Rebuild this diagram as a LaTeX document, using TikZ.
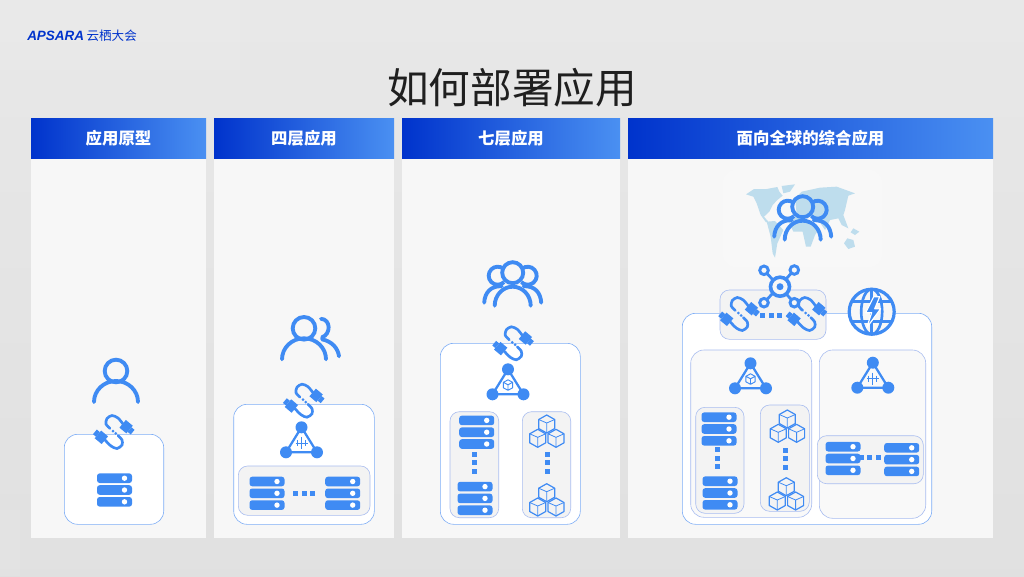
\documentclass[tikz,border=0pt]{standalone}
\usepackage{fontspec}
\usepackage{tikz}
\usetikzlibrary{positioning, fit}
\setmainfont{Noto Sans CJK SC}
\newfontfamily\logofont{Liberation Sans}
\definecolor{iconblue}{HTML}{3F8BF3}
\definecolor{deepblue}{HTML}{0033CC}
\definecolor{liteblue}{HTML}{4A90F2}
\definecolor{edgeblue}{HTML}{7FAEF6}
\definecolor{trimblue}{HTML}{A9BDF0}
\definecolor{mapblue}{HTML}{BEDDED}
\definecolor{panelgray}{HTML}{F7F7F7}
\definecolor{slotgray}{HTML}{F3F3F3}

\tikzset{
  pics/serverbar/.style={code={
    \fill[iconblue, rounded corners=2pt] (-17.5,-4.8) rectangle (17.5,4.8);
    \fill[white] (10,0) circle (2.7);
  }},
  pics/serverstack/.style={code={
    \pic at (0,-11.8) {serverbar};
    \pic at (0,0) {serverbar};
    \pic at (0,11.8) {serverbar};
  }},
  pics/dotrow/.style={code={
    \fill[iconblue] (-11,-2.5) rectangle (-6,2.5);
    \fill[iconblue] (-2.5,-2.5) rectangle (2.5,2.5);
    \fill[iconblue] (6,-2.5) rectangle (11,2.5);
  }},
  pics/dotcol/.style={code={
    \fill[iconblue] (-2.5,-11) rectangle (2.5,-6);
    \fill[iconblue] (-2.5,-2.5) rectangle (2.5,2.5);
    \fill[iconblue] (-2.5,6) rectangle (2.5,11);
  }},
  pics/cubecell/.style={code={
    \draw[iconblue, line width=0.9pt, line join=round, fill=slotgray]
      (0,-9) -- (8,-4.5) -- (8,4.5) -- (0,9) -- (-8,4.5) -- (-8,-4.5) -- cycle;
    \draw[iconblue, line width=0.6pt, line join=round]
      (-8,-4.5) -- (0,-1) -- (8,-4.5) (0,-1) -- (0,9);
  }},
  pics/cubegroup/.style={code={
    \pic at (-9,14.3) {cubecell};
    \pic at (9.3,14.3) {cubecell};
    \pic at (0,0) {cubecell};
  }},
  pics/cable/.style={code={
    \draw[iconblue, line width=2pt, line cap=round]
      plot[smooth] coordinates {(9,-8) (4,-14) (-2,-16.5) (-7,-13.5) (-8,-8) (-4,-3.5)};
    \draw[iconblue, line width=2pt, line cap=round]
      plot[smooth] coordinates {(4,3.5) (8,8) (8,13) (3,16.5) (-3,14) (-9,8)};
    \fill[iconblue] (-1,-1) circle (1.5) (1.8,1.4) circle (1.5);
    \begin{scope}[shift={(12.5,-5)}, rotate=-40]
      \fill[iconblue] (-5,-5) rectangle (4,5);
      \fill[iconblue] (4,-3) rectangle (8,3);
    \end{scope}
    \begin{scope}[shift={(-13,5)}, rotate=140]
      \fill[iconblue] (-5,-5) rectangle (4,5);
      \fill[iconblue] (4,-3) rectangle (8,3);
    \end{scope}
  }},
  pics/flakeglyph/.style={code={
    \draw[iconblue, line width=0.7pt] (0,-15) -- (0,-3) (-6,-9) -- (6,-9);
    \draw[iconblue, line width=0.7pt] (-4,-12) -- (-4,-6) (4,-12) -- (4,-6);
  }},
  pics/cubeglyph/.style={code={
    \draw[iconblue, line width=0.7pt, line join=round]
      (0,-14.5) -- (4.6,-12) -- (4.6,-6.5) -- (0,-4) -- (-4.6,-6.5) -- (-4.6,-12) -- cycle
      (-4.6,-12) -- (0,-9.5) -- (4.6,-12) (0,-9.5) -- (0,-4);
  }},
  pics/lbtriangle/.style={code={
    \draw[iconblue, line width=1.7pt] (0,-25) -- (-15.5,0) -- (15.5,0) -- cycle;
    \fill[iconblue] (0,-25) circle (6) (-15.5,0) circle (6) (15.5,0) circle (6);
    \pic {#1};
  }},
  pics/oneuser/.style={code={
    \draw[iconblue, line width=2.9pt] (0,0) circle (11.3);
    \draw[iconblue, line width=2.9pt, line cap=round]
      (-22,31) arc[start angle=180, end angle=360, x radius=22, y radius=21];
  }},
  pics/twousers/.style={code={
    \pic {oneuser};
    \draw[iconblue, line width=2.9pt, line cap=round]
      (17,-9.5) .. controls (27,-9) and (27,6) .. (18,9);
    \draw[iconblue, line width=2.9pt, line cap=round]
      (18,11) .. controls (28,13) and (34,20) .. (35,28);
  }},
  pics/threeusers/.style={code={
    \draw[iconblue, line width=2.9pt] (0,0) circle (10.5);
    \draw[iconblue, line width=2.9pt] (-15,3)+(45:9) arc[start angle=45, end angle=310, radius=9];
    \draw[iconblue, line width=2.9pt] (15,3)+(-130:9) arc[start angle=-130, end angle=135, radius=9];
    \draw[iconblue, line width=2.9pt, line cap=round]
      (-18,33) arc[start angle=180, end angle=360, x radius=18, y radius=19];
    \draw[iconblue, line width=2.9pt, line cap=round]
      (-28.5,30) .. controls (-28,20) and (-22,13) .. (-11,13.5);
    \draw[iconblue, line width=2.9pt, line cap=round]
      (28.5,30) .. controls (28,20) and (22,13) .. (11,13.5);
  }}
}

\begin{document}
\begin{tikzpicture}[x=0.75pt, y=-0.75pt,
    hdr/.style={left color=deepblue, right color=liteblue, text=white, inner sep=0pt,
                font=\fontsize{12.3}{14}\selectfont\bfseries},
    panel/.style={fill=panelgray, inner sep=0pt},
    outerbox/.style={draw=edgeblue, line width=0.45pt, fill=white, rounded corners=10pt, inner sep=0pt},
    innerbox/.style={draw=trimblue, line width=0.45pt, fill=slotgray, rounded corners=7pt, inner sep=0pt}]
  \useasboundingbox (0,0) rectangle (1024,576);
  \shade[top color=black!9, bottom color=black!12] (0,0) rectangle (1024,576);
  \fill[white, opacity=0.07] (0,0) rectangle (240,70);
  \fill[white, opacity=0.07] (0,510) rectangle (20,576);

  % logo and title
  \node[anchor=west, inner sep=0pt, text=deepblue, font=\logofont\bfseries\itshape\fontsize{10.1}{12}\selectfont] (logo) at (27,36) {APSARA};
  \node[right=1.5pt of logo, inner sep=0pt, text=deepblue, font=\fontsize{9.4}{11}\selectfont] (event) {云栖大会};
  \node[text=black!88, inner sep=0pt, font=\fontsize{31.2}{36}\selectfont] (title) at (512,88) {如何部署应用};

  % panels
  \node[panel, fit={(31,159) (206,538)}] (panelA) {};
  \node[panel, fit={(214,159) (394,538)}] (panelB) {};
  \node[panel, fit={(402,159) (620,538)}] (panelC) {};
  \node[panel, fit={(628,159) (993,538)}] (panelD) {};
  \node[hdr, minimum width=175*0.75pt, minimum height=40*0.75pt, anchor=south] (hdrA) at (panelA.north) {应用原型};
  \node[hdr, minimum width=180*0.75pt, minimum height=40*0.75pt, anchor=south] (hdrB) at (panelB.north) {四层应用};
  \node[hdr, minimum width=218*0.75pt, minimum height=40*0.75pt, anchor=south] (hdrC) at (panelC.north) {七层应用};
  \node[hdr, minimum width=365*0.75pt, minimum height=40*0.75pt, anchor=south] (hdrD) at (panelD.north) {面向全球的综合应用};

  % prototype
  \node[outerbox, fit={(64.3,434.3) (163.7,524.3)}] (boxA) {};
  \pic at (116,371) {oneuser};
  \pic at (114,432) {cable};
  \pic at (114.5,490) {serverstack};

  % layer four
  \node[outerbox, fit={(233.7,404.3) (374.3,524.3)}] (boxB) {};
  \node[innerbox, fit={(238.3,466) (370,515.3)}] (slotB) {};
  \pic at (304,328.3) {twousers};
  \pic at (304,400.7) {cable};
  \pic at (301.5,452.3) {lbtriangle=flakeglyph};
  \pic at (267,493.3) {serverstack};
  \pic at (304,493.7) {dotrow};
  \pic at (342.7,493.3) {serverstack};

  % layer seven
  \node[outerbox, fit={(440.3,343.3) (580.3,524.3)}] (boxC) {};
  \node[innerbox, fit={(450,411.7) (498.7,517.7)}] (slotCa) {};
  \node[innerbox, fit={(522.3,411.7) (570.7,517.7)}] (slotCb) {};
  \pic at (512.7,272.7) {threeusers};
  \pic at (513.3,343.3) {cable};
  \pic at (508,394.3) {lbtriangle=cubeglyph};
  \pic at (476.7,432.2) {serverstack};
  \pic at (474.7,462.7) {dotcol};
  \pic at (475,498.4) {serverstack};
  \pic at (546.7,424) {cubegroup};
  \pic at (547,462.7) {dotcol};
  \pic at (546.7,492.7) {cubegroup};

  % global
  \node[fill=white, opacity=0.2, rounded corners=10pt, inner sep=0pt, fit={(723,170) (882,267)}] (mapback) {};
  \begin{scope}[shift={(740,175)}, xscale=0.3333, yscale=0.3333]
    \fill[mapblue] (18,58) -- (42,42) -- (80,42) -- (112,36) -- (118,50) -- (128,62) -- (112,75) -- (98,90)
      -- (88,110) -- (72,125) -- (85,140) -- (78,142) -- (62,120) -- (50,85) -- (40,65) -- cycle;
    \fill[mapblue] (125,33) -- (165,28) -- (150,50) -- (130,55) -- cycle;
    \fill[mapblue] (80,140) -- (105,138) -- (130,165) -- (112,205) -- (105,248) -- (98,235) -- (92,185) -- cycle;
    \fill[mapblue] (145,138) -- (165,125) -- (195,130) -- (210,150) -- (235,165) -- (225,180) -- (212,215)
      -- (198,215) -- (188,170) -- (160,170) -- cycle;
    \fill[mapblue] (165,70) -- (185,50) -- (240,38) -- (290,35) -- (345,55) -- (325,62) -- (315,105) -- (310,120)
      -- (325,160) -- (305,150) -- (295,130) -- (270,135) -- (255,165) -- (235,135) -- (205,125) -- (170,115) -- cycle;
    \fill[mapblue] (312,205) -- (322,190) -- (340,195) -- (345,215) -- (325,222) -- cycle;
    \fill[mapblue] (340,160) -- (358,170) -- (345,180) -- (332,172) -- cycle;
  \end{scope}
  \pic at (802.7,206.7) {threeusers};
  \node[outerbox, fit={(682.3,313.3) (931.7,524.3)}] (boxD) {};
  \node[innerbox, fill=panelgray!70, rounded corners=10pt, fit={(690.7,350) (811.7,517.3)}] (zoneL) {};
  \node[innerbox, fill=panelgray!70, rounded corners=10pt, fit={(819.3,350) (925.7,518.3)}] (zoneR) {};
  \node[innerbox, fit={(720,290) (826,339.3)}] (slotEdge) {};
  \node[innerbox, fit={(695.7,407.3) (744,513.3)}] (slotDa) {};
  \node[innerbox, fit={(760.3,405) (809.3,511.3)}] (slotDb) {};
  \node[innerbox, fit={(817.3,435.7) (923.3,483.7)}] (slotDc) {};
  % hub
  \draw[iconblue, line width=2.1pt] (764,270.3) -- (794.3,302.7) (794.3,270) -- (764,302.7);
  \filldraw[fill=panelgray, draw=iconblue, line width=2.7pt] (780,286.7) circle (9.5);
  \fill[iconblue] (780,286.7) circle (3.5);
  \filldraw[fill=panelgray, draw=iconblue, line width=2.2pt] (764,270.3) circle (4.3);
  \filldraw[fill=panelgray, draw=iconblue, line width=2.2pt] (794.3,270) circle (4.3);
  \filldraw[fill=panelgray, draw=iconblue, line width=2.2pt] (764,302.7) circle (4.3);
  \filldraw[fill=panelgray, draw=iconblue, line width=2.2pt] (794.3,302.7) circle (4.3);
  % globe
  \begin{scope}[shift={(871.7,311.7)}]
    \filldraw[fill=panelgray, draw=iconblue, line width=2.4pt] (0,0) circle (22.5);
    \draw[iconblue, line width=2pt] (0,0) ellipse[x radius=10.5, y radius=22.5];
    \draw[iconblue, line width=2pt] (-20,-10) -- (20,-10) (-20,10) -- (20,10) (0,-22) -- (0,22);
    \filldraw[fill=iconblue, draw=white, line width=0.9pt, line join=round]
      (2,-15) -- (-6,1) -- (0,1) -- (-5,16) -- (9,-3) -- (3,-3) -- (8,-15) -- cycle;
  \end{scope}
  \pic at (739.3,314) {cable};
  \pic at (771,315) {dotrow};
  \pic at (806.7,314) {cable};
  \pic at (750.5,388.3) {lbtriangle=cubeglyph};
  \pic at (872.8,387.7) {lbtriangle=flakeglyph};
  \pic at (719,429) {serverstack};
  \pic at (717,458) {dotcol};
  \pic at (720,493) {serverstack};
  \pic at (787.3,419) {cubegroup};
  \pic at (785,458.7) {dotcol};
  \pic at (786.3,486.7) {cubegroup};
  \pic at (843,458.5) {serverstack};
  \pic at (869.7,457.3) {dotrow};
  \pic at (901.7,459.6) {serverstack};
\end{tikzpicture}
\end{document}
